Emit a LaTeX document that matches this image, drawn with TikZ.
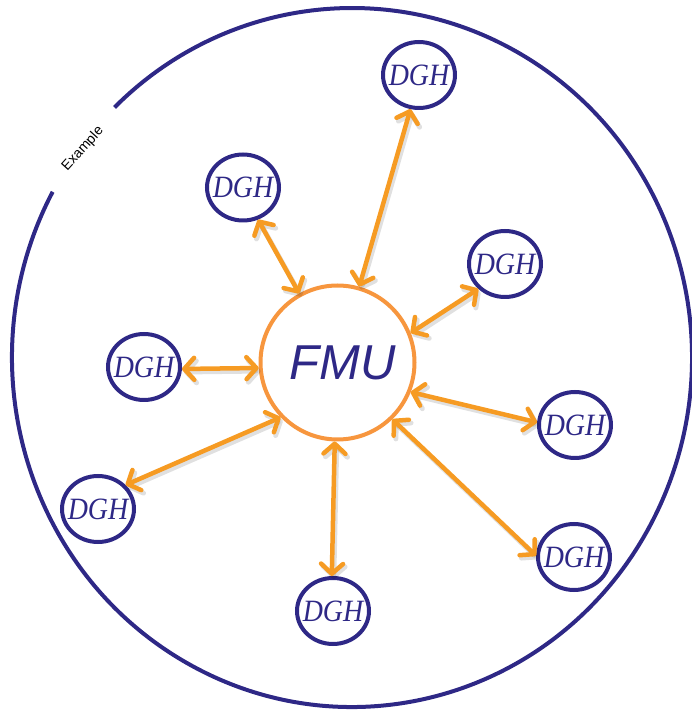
\documentclass[tikz,border=0pt]{standalone}
\usepackage{fontspec}
\setmainfont{Liberation Serif}
\newfontfamily\fmufont{Liberation Sans}
\usetikzlibrary{arrows.meta,shapes.geometric}
\definecolor{navy}{RGB}{46,40,134}
\definecolor{arrorange}{RGB}{246,155,35}
\definecolor{fmuorange}{RGB}{247,150,62}
\newcommand{\dghtext}{\makebox[0pt]{\scalebox{0.9}[1]{DGH}}}
\tikzset{
  dgh/.style={draw=navy, line width=4pt, ellipse, minimum width=72pt, minimum height=66pt, inner sep=0pt,
    font=\fontsize{31}{31}\selectfont\itshape, text=navy},
  fmu/.style={draw=fmuorange, line width=4pt, circle, minimum size=154pt, inner sep=0pt,
    font=\fmufont\fontsize{49}{49}\selectfont\itshape, text=navy},
  link/.style={draw=arrorange, line width=4.5pt, line cap=round,
    {Straight Barb[length=10pt,width=22pt,line cap=round,line join=round]}-{Straight Barb[length=10pt,width=22pt,line cap=round,line join=round]}},
  shade/.style={draw=black, opacity=0.12, line width=5pt, line cap=round, transform canvas={shift={(2pt,-3pt)}},
    {Straight Barb[length=10pt,width=22pt,line cap=round,line join=round]}-{Straight Barb[length=10pt,width=22pt,line cap=round,line join=round]}}
}
\begin{document}
\begin{tikzpicture}[x=1pt,y=1pt]
\useasboundingbox (0,0) rectangle (692,710);
% outer boundary with gap
\coordinate (c) at (352,352.5);
\draw[navy, line width=4pt] (c) ++(151.7:340 and 349.5) arc[start angle=151.7, end angle=494.3, x radius=340, y radius=349.5];
\node[rotate=48, font=\fmufont\fontsize{14}{14}\selectfont] (ex) at (83,561) {Example};
% nodes
\node[fmu] (fmu) at (337.5,347.5) {\makebox[0pt]{\hspace{10pt}FMU}};
\node[dgh] (d1) at (419,635) {\dghtext};
\node[dgh] (d2) at (243,522.5) {\dghtext};
\node[dgh] (d3) at (505,446) {\dghtext};
\node[dgh] (d4) at (144,343) {\dghtext};
\node[dgh] (d5) at (575,285) {\dghtext};
\node[dgh] (d6) at (98,201) {\dghtext};
\node[dgh] (d7) at (574,153) {\dghtext};
\node[dgh] (d8) at (333,99) {\dghtext};
% shadows
\foreach \a/\n/\b in {74.2/d1/256.7, 119.6/d2/295, 22.8/d3/223.9, 184/d4/357, 338.4/d5/176.9, 224/d6/41.6, 314/d7/178, 268/d8/92}{
  \draw[shade] (fmu.\a) -- (\n.\b);
}
% links
\draw[link] (fmu.74.2) -- (d1.256.7);
\draw[link] (fmu.119.6) -- (d2.295);
\draw[link] (fmu.22.8) -- (d3.223.9);
\draw[link] (fmu.184) -- (d4.357);
\draw[link] (fmu.338.4) -- (d5.176.9);
\draw[link] (fmu.224) -- (d6.41.6);
\draw[link] (fmu.314) -- (d7.178);
\draw[link] (fmu.268) -- (d8.92);
\end{tikzpicture}
\end{document}
